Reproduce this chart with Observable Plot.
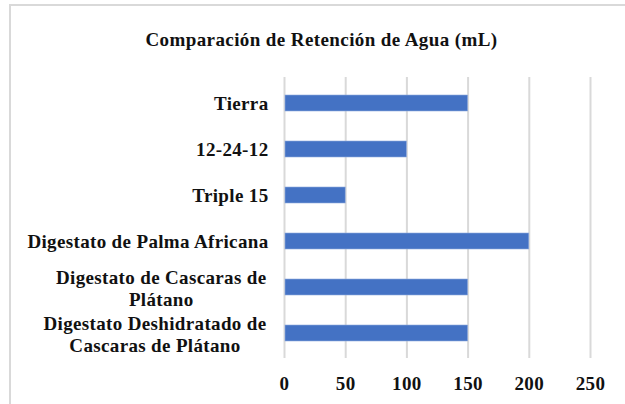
<!DOCTYPE html>
<html>
<head>
<meta charset="utf-8">
<script src="https://cdn.jsdelivr.net/npm/d3@7"></script>
<script src="https://cdn.jsdelivr.net/npm/@observablehq/plot@0.6"></script>
<style>
  html, body { margin: 0; padding: 0; background: white; }
  #wrap { position: relative; width: 625px; height: 404px; overflow: hidden; background: white; }
  #frame { position: absolute; left: 9px; top: 4px; width: 640px; height: 420px;
           border-left: 2px solid #d9d9d9; border-top: 2px solid #d9d9d9; pointer-events: none; }
  #title { position: absolute; left: 9px; width: 625px; top: 29px; text-align: center;
           font-family: "Liberation Serif", serif; font-weight: bold; font-size: 19px; line-height: 22px;
           letter-spacing: 0.4px; color: #111; }
  #chart { position: absolute; left: 0; top: 0; }
  #chart svg text { letter-spacing: 0.35px; }
</style>
</head>
<body>
<div id="wrap">
  <div id="chart"></div>
  <div id="frame"></div>
  <div id="title">Comparación de Retención de Agua (mL)</div>
</div>
<script>
const categories = [
  "Tierra",
  "12-24-12",
  "Triple 15",
  "Digestato de Palma Africana",
  "Digestato de Cascaras de Plátano",
  "Digestato Deshidratado de Cascaras de Plátano"
];
const values = [150, 100, 50, 200, 150, 150];
const xTicks = [0, 50, 100, 150, 200, 250];
const labelLines = [
  ["Tierra"],
  ["12-24-12"],
  ["Triple 15"],
  ["Digestato de Palma Africana"],
  ["Digestato de Cascaras de", "Plátano"],
  ["Digestato Deshidratado de", "Cascaras de Plátano"]
];

const data = categories.map((c, i) => ({category: c, value: values[i]}));
const ctx = document.createElement("canvas").getContext("2d");
ctx.font = "bold 19px 'Liberation Serif'";
const measure = s => ctx.measureText(s).width + 0.35 * s.length;

const single = categories.filter((c, i) => labelLines[i].length === 1);
const multiAxes = categories
  .map((c, i) => ({c, lines: labelLines[i]}))
  .filter(d => d.lines.length > 1)
  .map(d => {
    const w = Math.max(...d.lines.map(measure));
    return Plot.axisY([d.c], {
      tickSize: 0, tickPadding: 18, textAnchor: "middle", dx: -w / 2, label: null,
      tickFormat: () => d.lines.join("\n"), lineHeight: 22 / 19, fill: "#111"
    });
  });

const chart = Plot.plot({
  width: 625,
  height: 404,
  marginTop: 77,
  marginBottom: 46,
  marginLeft: 284,
  marginRight: 35,
  style: {fontFamily: "'Liberation Serif', serif", fontWeight: "bold", fontSize: "19px", background: "transparent"},
  x: {domain: [0, 250], ticks: xTicks, label: null},
  y: {domain: categories, paddingInner: 0.66, paddingOuter: 0.32, label: null},
  marks: [
    Plot.gridX(xTicks, {stroke: "#d9d9d9", strokeOpacity: 1, strokeWidth: 2}),
    Plot.barX(data, {x: "value", y: "category", fill: "#4472C4", stroke: "#8faadc", strokeWidth: 0.6, insetLeft: 1}),
    Plot.axisX(xTicks, {tickSize: 0, tickPadding: 18, fill: "#111", label: null}),
    Plot.axisY(single, {tickSize: 0, tickPadding: 16, fill: "#111", label: null}),
    ...multiAxes
  ]
});
document.getElementById("chart").appendChild(chart);
</script>
</body>
</html>
